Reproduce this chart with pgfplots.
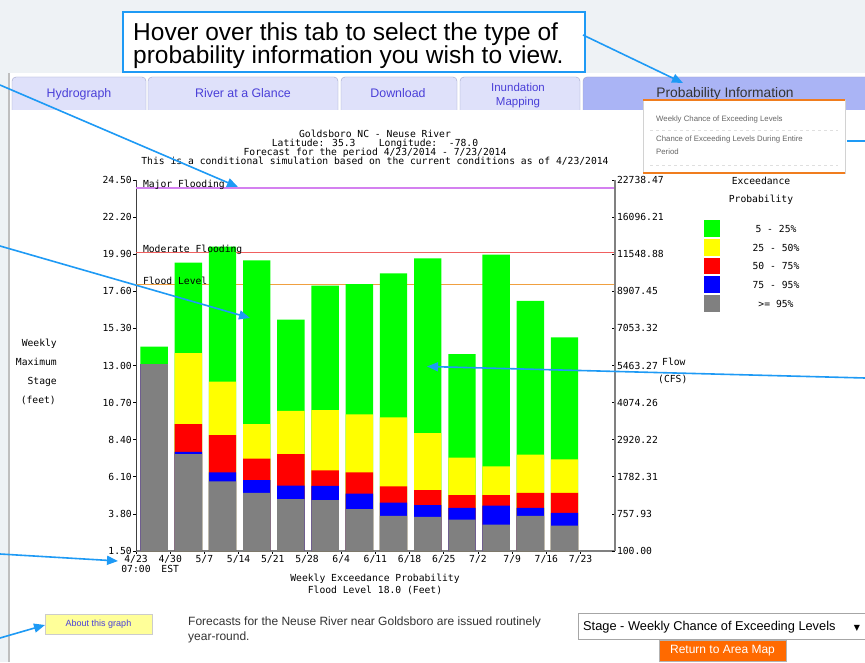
\documentclass[border=0pt]{standalone}
\usepackage{pgfplots}
\pgfplotsset{compat=1.18}
\usepackage{pgfplotstable}
\usepackage{fontspec}
\setmainfont{Liberation Sans}
\newfontfamily\monofont{DejaVu Sans Mono}
\newfontfamily\symfont{DejaVu Sans}
\usetikzlibrary{arrows.meta}

\definecolor{bgcol}{HTML}{EEF2F5}
\definecolor{arrowblue}{HTML}{1E9AF5}
\definecolor{tabfill}{HTML}{DFE1FA}
\definecolor{tabborder}{HTML}{9FA3C9}
\definecolor{tabact}{HTML}{AAB4F5}
\definecolor{tabtext}{HTML}{4A3FD8}
\definecolor{cgreen}{HTML}{00FF00}
\definecolor{cyellow}{HTML}{FFFF00}
\definecolor{cred}{HTML}{FF0000}
\definecolor{cblue}{HTML}{0000FF}
\definecolor{cgray}{HTML}{808080}
\definecolor{majorc}{HTML}{D480F0}
\definecolor{modc}{HTML}{F06060}
\definecolor{floodc}{HTML}{F0A040}
\definecolor{menuorange}{HTML}{F07D1E}
\definecolor{btnorange}{HTML}{FF6A00}
\definecolor{aboutfill}{HTML}{FFFF99}

\newcommand{\mono}{\monofont\fontsize{9.7}{10}\selectfont}

\pgfplotstableread{
x gray blue red yellow green
0.53 13.09 13.09 13.09 13.09 14.17
1.53 7.51 7.64 9.37 13.77 19.37
2.53 5.82 6.38 8.69 12.00 20.37
3.53 5.10 5.90 7.22 9.37 19.52
4.53 4.72 5.55 7.50 10.18 15.84
5.53 4.66 5.53 6.50 10.24 17.95
6.53 4.10 5.05 6.38 9.97 18.05
7.53 3.67 4.50 5.51 9.79 18.71
8.53 3.61 4.35 5.28 8.81 19.64
9.53 3.44 4.18 4.97 7.29 13.71
10.53 3.13 4.31 4.97 6.75 19.87
11.53 3.67 4.18 5.11 7.47 17.00
12.53 3.07 3.87 5.11 7.18 14.75
}\bars

\begin{document}
\begin{tikzpicture}[x=1pt,y=1pt]
\useasboundingbox (0,0) rectangle (865,662);
\fill[bgcol] (0,0) rectangle (865,662);
\fill[white] (10,0) rectangle (865,589);
\draw[gray!50, line width=1.5pt] (9,0) -- (9,589);

% tabs
\foreach \a/\b in {12/146,148/338,341/457,460/580}{
  \draw[fill=tabfill, draw=tabborder, rounded corners=4pt] (\a,552) -- (\a,585) -- (\b,585) -- (\b,552);
}
\draw[fill=tabact, draw=tabborder, rounded corners=4pt] (583,552) -- (583,585) -- (870,585) -- (870,552);
\node[anchor=base, font=\fontsize{12.4}{14}\selectfont, text=tabtext, inner sep=0pt] at (79,564.5) {Hydrograph};
\node[anchor=base, font=\fontsize{12.4}{14}\selectfont, text=tabtext, inner sep=0pt] at (243,564.5) {River at a Glance};
\node[anchor=base, font=\fontsize{12.4}{14}\selectfont, text=tabtext, inner sep=0pt] at (398,564.5) {Download};
\node[anchor=base, font=\fontsize{11.5}{13}\selectfont, text=tabtext, inner sep=0pt] at (518,570.5) {Inundation};
\node[anchor=base, font=\fontsize{11.5}{13}\selectfont, text=tabtext, inner sep=0pt] at (518,556.5) {Mapping};
\node[anchor=base, font=\fontsize{13.8}{15}\selectfont, text=black!80, inner sep=0pt] at (725,564) {Probability Information};

% callout
\draw[fill=white, draw=arrowblue, line width=2.2pt] (123,590) rectangle (585,650);
\node[anchor=base west, font=\fontsize{24.5}{26}\selectfont, inner sep=0pt] at (133,621) {Hover over this tab to select the type of};
\node[anchor=base west, font=\fontsize{24.5}{26}\selectfont, inner sep=0pt] at (133,598) {probability information you wish to view.};

% chart titles
\node[anchor=base, font=\mono, inner sep=0pt] at (375,524.7) {Goldsboro NC - Neuse River};
\node[anchor=base, font=\mono, inner sep=0pt] at (375,515) {Latitude: 35.3~~~~Longitude:~~-78.0};
\node[anchor=base, font=\mono, inner sep=0pt] at (375,506) {Forecast for the period 4/23/2014 - 7/23/2014};
\node[anchor=base, font=\mono, inner sep=0pt] at (375,497) {This is a conditional simulation based on the current conditions as of 4/23/2014};

\begin{axis}[at={(136pt,111pt)}, anchor=south west, scale only axis,
  width=478.8pt, height=371pt,
  xmin=0, xmax=14, ymin=1.5, ymax=24.5,
  axis x line*=bottom, axis y line*=left,
  x axis line style={draw=gray, line width=1.5pt},
  y axis line style={draw=black!75, line width=1pt},
  xtick={0,...,13},
  xticklabels={{4/23\\07:00},{4/30\\EST},5/7,5/14,5/21,5/28,6/4,6/11,6/18,6/25,7/2,7/9,7/16,7/23},
  xticklabel style={align=center, inner sep=1pt},
  ytick={1.5,3.8,6.1,8.4,10.7,13,15.3,17.6,19.9,22.2,24.5},
  yticklabels={1.50,3.80,6.10,8.40,10.70,13.00,15.30,17.60,19.90,22.20,24.50},
  yticklabel style={inner sep=1pt},
  tick label style={font=\mono},
  tick align=outside, major tick length=3pt,
  tick style={black, line width=0.8pt},
]
\addplot[draw=majorc, line width=1.6pt] coordinates {(0,24) (14,24)};
\addplot[draw=modc, line width=1.6pt] coordinates {(0,20) (14,20)};
\addplot[draw=floodc, line width=1pt] coordinates {(0,18) (14,18)};
\addplot[ybar, bar width=0.8, bar shift=0pt, fill=cgreen, draw=none] table[x=x, y=green] {\bars};
\addplot[ybar, bar width=0.8, bar shift=0pt, fill=cyellow, draw=none] table[x=x, y=yellow] {\bars};
\addplot[ybar, bar width=0.8, bar shift=0pt, fill=cred, draw=none] table[x=x, y=red] {\bars};
\addplot[ybar, bar width=0.8, bar shift=0pt, fill=cblue, draw=none] table[x=x, y=blue] {\bars};
\addplot[ybar, bar width=0.8, bar shift=0pt, fill=cgray, draw=none] table[x=x, y=gray] {\bars};
\node[anchor=base west, font=\mono, inner sep=0pt] at (axis cs:0.2,24.03) {Major Flooding};
\node[anchor=base west, font=\mono, inner sep=0pt] at (axis cs:0.2,20.03) {Moderate Flooding};
\node[anchor=base west, font=\mono, inner sep=0pt] at (axis cs:0.2,18.03) {Flood Level};
\end{axis}

\begin{axis}[at={(136pt,111pt)}, anchor=south west, scale only axis,
  width=478.8pt, height=371pt,
  xmin=0, xmax=14, ymin=1.5, ymax=24.5,
  axis x line=none, axis y line*=right,
  y axis line style={draw=gray, line width=2pt},
  ytick={1.5,3.8,6.1,8.4,10.7,13,15.3,17.6,19.9,22.2,24.5},
  yticklabels={100.00,757.93,1782.31,2920.22,4074.26,5463.27,7053.32,8907.45,11548.88,16096.21,22738.47},
  yticklabel style={font=\mono, inner sep=0pt, xshift=2pt},
  tick align=inside, major tick length=3pt,
  tick style={black, line width=0.8pt},
]
\end{axis}

% axis titles
\node[anchor=base east, font=\mono, inner sep=0pt] at (57,315.5) {Weekly};
\node[anchor=base east, font=\mono, inner sep=0pt] at (57,296.5) {Maximum};
\node[anchor=base east, font=\mono, inner sep=0pt] at (57,277.5) {Stage};
\node[anchor=base east, font=\mono, inner sep=0pt] at (56,258.5) {(feet)};
\node[anchor=base west, font=\mono, inner sep=0pt] at (662,296) {Flow};
\node[anchor=base west, font=\mono, inner sep=0pt] at (658,279) {(CFS)};
\node[anchor=base, font=\mono, inner sep=0pt] at (375,81) {Weekly Exceedance Probability};
\node[anchor=base, font=\mono, inner sep=0pt] at (375,69) {Flood Level 18.0 (Feet)};

% legend
\node[anchor=base, font=\mono, inner sep=0pt] at (761,477) {Exceedance};
\node[anchor=base, font=\mono, inner sep=0pt] at (761,459) {Probability};
\fill[cgreen] (704,425) rectangle (720,442);
\fill[cyellow] (704,406) rectangle (720,423);
\fill[cred] (704,388) rectangle (720,404);
\fill[cblue] (704,369) rectangle (720,386);
\fill[cgray] (704,350) rectangle (720,367);
\node[anchor=base, font=\mono, inner sep=0pt] at (776,429.5) {5 - 25\%};
\node[anchor=base, font=\mono, inner sep=0pt] at (776,410.5) {25 - 50\%};
\node[anchor=base, font=\mono, inner sep=0pt] at (776,392.5) {50 - 75\%};
\node[anchor=base, font=\mono, inner sep=0pt] at (776,373.5) {75 - 95\%};
\node[anchor=base, font=\mono, inner sep=0pt] at (776,354.5) {>= 95\%};

% dropdown menu
\draw[fill=white, draw=gray!35] (643,489) rectangle (845,562);
\draw[menuorange, line width=2pt] (643,562) -- (845,562);
\draw[menuorange, line width=2pt] (643,489) -- (845,489);
\node[anchor=base west, font=\fontsize{7.8}{9}\selectfont, text=black!60, inner sep=0pt] at (656,540) {Weekly Chance of Exceeding Levels};
\draw[gray!25, dashed] (650,532) -- (838,532);
\node[anchor=base west, font=\fontsize{7.8}{9}\selectfont, text=black!60, inner sep=0pt] at (656,520) {Chance of Exceeding Levels During Entire};
\node[anchor=base west, font=\fontsize{7.8}{9}\selectfont, text=black!60, inner sep=0pt] at (656,507) {Period};
\draw[gray!25, dashed] (650,497) -- (838,497);

% bottom controls
\draw[fill=aboutfill, draw=black!20, line width=1pt] (45,28) rectangle (152,48);
\node[font=\fontsize{9}{10}\selectfont, text=tabtext] at (98.5,38) {About this graph};
\node[anchor=base west, font=\fontsize{12}{14}\selectfont, text=black!80, inner sep=0pt] at (188,37) {Forecasts for the Neuse River near Goldsboro are issued routinely};
\node[anchor=base west, font=\fontsize{12}{14}\selectfont, text=black!80, inner sep=0pt] at (188,22) {year-round.};
\draw[fill=white, draw=gray!70] (578,23) rectangle (866,49);
\node[anchor=base west, font=\fontsize{12.8}{14}\selectfont, inner sep=0pt] at (583,31.5) {Stage - Weekly Chance of Exceeding Levels};
\node[anchor=base, font=\symfont\fontsize{8}{9}\selectfont, inner sep=0pt] at (857,32) {▼};
\draw[fill=btnorange, draw=gray!60] (659,1) rectangle (786,22);
\node[font=\fontsize{12}{14}\selectfont, text=white] at (722.5,11.5) {Return to Area Map};

% arrows
\begin{scope}[arrowblue, line width=1.6pt, -{Triangle[length=11pt,width=9pt]}]
\draw (583,627) -- (683,579);
\draw (0,577) -- (238,475);
\draw (0,416) -- (250,344);
\draw (865,284) -- (427,295.5);
\draw (0,108) -- (118,101);
\draw (0,24) -- (45,37);
\end{scope}
\draw[arrowblue, line width=1.6pt] (847,521) -- (865,521);
\end{tikzpicture}
\end{document}
